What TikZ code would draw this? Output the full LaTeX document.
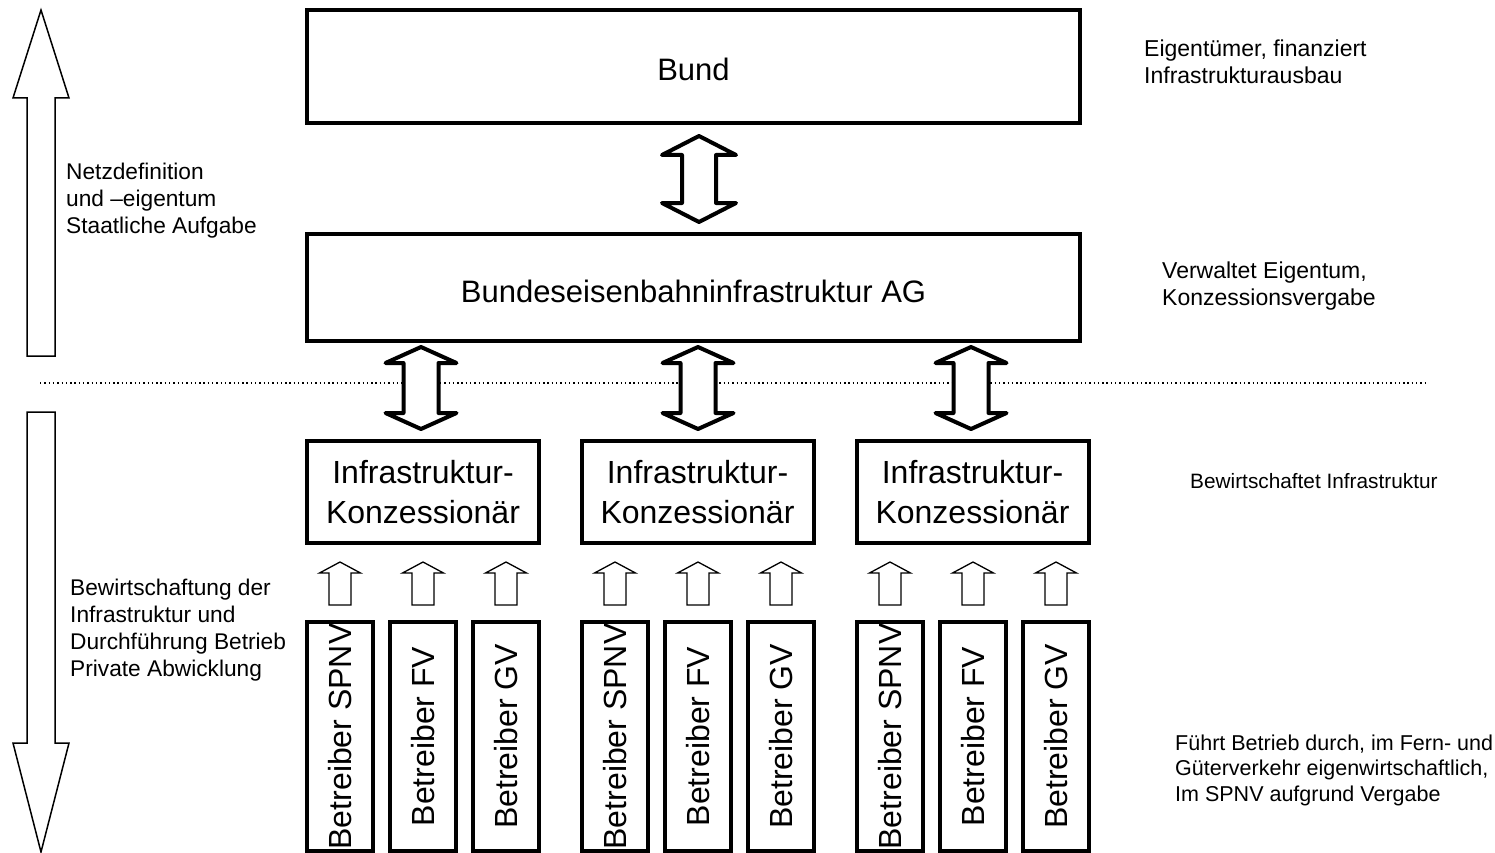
\documentclass[tikz,border=0pt]{standalone}
\usepackage{fontspec}
\setmainfont{Liberation Sans}
\usetikzlibrary{calc}
\tikzset{
  bigbox/.style={draw, line width=4pt, inner sep=0pt, minimum width=773pt, text height=29pt, text depth=0pt, font=\fontsize{31}{36}\selectfont},
  konz/.style={draw, line width=4pt, minimum width=232pt, minimum height=102pt, inner sep=0pt, align=center, font=\fontsize{32}{40}\selectfont},
  opbox/.style={draw, line width=4pt, rotate=90, minimum width=229pt, minimum height=66pt, inner sep=0pt, font=\fontsize{32}{38}\selectfont},
  note/.style={anchor=base west, align=left, inner sep=0pt, font=\fontsize{22.7}{27}\selectfont},
  blockarrow/.style={draw, line width=4pt, line join=round, fill=white},
  thinarrow/.style={draw, line width=1.3pt, fill=white},
  sidearrow/.style={draw, line width=1.5pt, fill=white},
  sepline/.style={line width=1.4pt, dash pattern=on 1.4pt off 2.9pt},
  pics/updown/.style n args={4}{code={
    \path[blockarrow] (0,0) -- (#2,#3) -- (#1,#3) -- (#1,#4-#3) -- (#2,#4-#3) -- (0,#4)
      -- (-#2,#4-#3) -- (-#1,#4-#3) -- (-#1,#3) -- (-#2,#3) -- cycle;}},
  pics/upblk/.style={code={
    \path[thinarrow] (-11,0) -- (-11,-32) -- (-20.5,-32) -- (0,-43) -- (20.5,-32) -- (11,-32) -- (11,0) -- cycle;}}
}
\begin{document}
\begin{tikzpicture}[x=1pt,y=-1pt]
\useasboundingbox (0,0) rectangle (1495,853);

% separator
\coordinate (sepL) at (40,383);
\coordinate (sepR) at (1425,383);
\draw[sepline] (sepL) -- (sepR);

% side arrows
\path[sidearrow] (27,356) -- (27,98) -- (13,98) -- (41,10) -- (69,98) -- (55,98) -- (55,356) -- cycle;
\path[sidearrow] (27,412) -- (55,412) -- (55,743) -- (69,743) -- (41,852) -- (13,743) -- (27,743) -- cycle;

% main boxes
\node[bigbox, minimum height=113pt] (bund) at (693.5,66.5) {Bund};
\node[bigbox, minimum height=107pt] (bei) at (693.5,287.5) {Bundeseisenbahninfrastruktur AG};

% concession boxes
\node[konz] (k1) at (423,492) {Infrastruktur-\\Konzessionär};
\node[konz] (k2) at (697.5,492) {Infrastruktur-\\Konzessionär};
\node[konz] (k3) at (972.5,492) {Infrastruktur-\\Konzessionär};

% operator boxes
\foreach \i/\L in {1/305,2/580,3/855}{
  \node[opbox] (s\i) at (\L+35,736.5) {Betreiber SPNV};
  \node[opbox] (f\i) at (\L+118,736.5) {Betreiber FV};
  \node[opbox] (g\i) at (\L+201,736.5) {Betreiber GV};
}

% block double arrows
\pic at ($(bund.south)+(5.5,11)$) {updown={17}{37}{19}{86}};
\pic at ($(k1.north |- bei.south)+(-2,4)$) {updown={17.5}{35.5}{16}{82}};
\pic at ($(k2.north |- bei.south)+(0.5,4)$) {updown={17.5}{35.5}{16}{82}};
\pic at ($(k3.north |- bei.south)+(-1.5,4)$) {updown={17.5}{35.5}{16}{82}};

% small up arrows
\foreach \i in {1,2,3}{
  \pic at ($(s\i.east)+(0,-15)$) {upblk};
  \pic at ($(f\i.east)+(0,-15)$) {upblk};
  \pic at ($(g\i.east)+(0,-15)$) {upblk};
}

% notes (anchored at the baseline of their last line)
\node[note] (n1) at (66,233) {Netzdefinition\\und –eigentum\\Staatliche Aufgabe};
\node[note] (n2) at (70,676.5) {Bewirtschaftung der\\Infrastruktur und\\Durchführung Betrieb\\Private Abwicklung};
\node[note, font=\fontsize{23}{27}\selectfont] (r1) at (1144,83.5) {Eigentümer, finanziert\\Infrastrukturausbau};
\node[note, font=\fontsize{23}{27}\selectfont] (r2) at (1162,305) {Verwaltet Eigentum,\\Konzessionsvergabe};
\node[note, font=\fontsize{20.8}{25}\selectfont] (r3) at (1190,488) {Bewirtschaftet Infrastruktur};
\node[note, font=\fontsize{21.5}{25.5}\selectfont] (r4) at (1175,801) {Führt Betrieb durch, im Fern- und\\Güterverkehr eigenwirtschaftlich,\\Im SPNV aufgrund Vergabe};
\end{tikzpicture}
\end{document}
